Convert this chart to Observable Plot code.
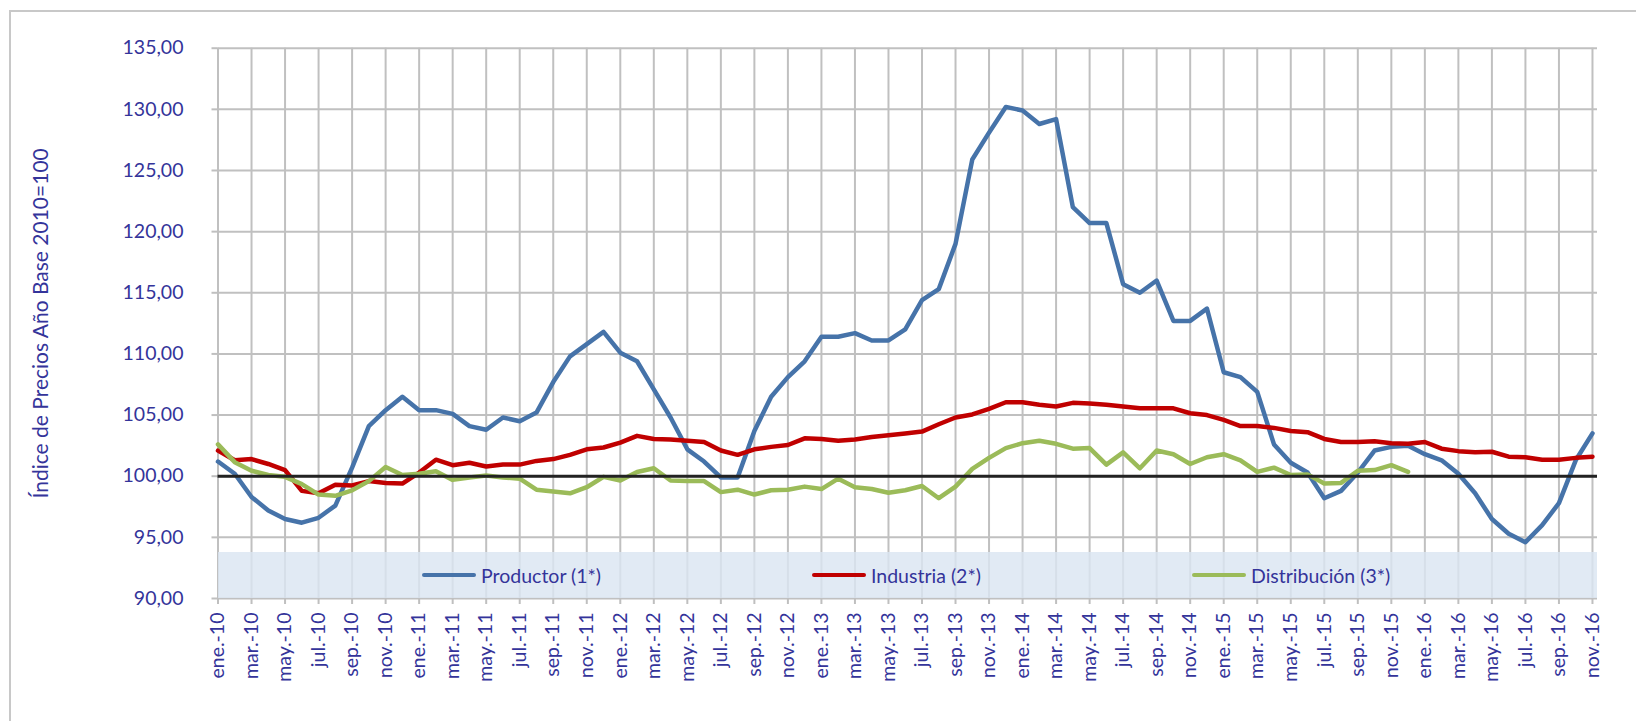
<!DOCTYPE html>
<html><head><meta charset="utf-8">
<script src="https://cdn.jsdelivr.net/npm/d3@7"></script>
<script src="https://cdn.jsdelivr.net/npm/@observablehq/plot@0.6"></script>
<style>
body{margin:0;background:#fff;width:1636px;height:721px;overflow:hidden;position:relative;font-family:Lato,sans-serif}
#frame{position:absolute;left:9px;top:10px;width:1700px;height:800px;border:2px solid #c8c8c8;box-sizing:border-box}
#chart{position:absolute;left:0;top:0}
#legend{position:absolute;left:217.5px;top:552px;width:1379.5px;height:46px;background:rgba(218,229,242,0.82)}
.item{position:absolute;top:0;height:46px;display:flex;align-items:center;color:#34349a;font-size:19.5px;white-space:nowrap}
.swatch{width:54px;height:4.5px;border-radius:2px;margin-right:5px}
</style></head>
<body><div id="frame"></div><div id="chart"></div><div id="legend"></div>
<script>
const tickLabels = ["ene.-10","mar.-10","may.-10","jul.-10","sep.-10","nov.-10",
"ene.-11","mar.-11","may.-11","jul.-11","sep.-11","nov.-11",
"ene.-12","mar.-12","may.-12","jul.-12","sep.-12","nov.-12",
"ene.-13","mar.-13","may.-13","jul.-13","sep.-13","nov.-13",
"ene.-14","mar.-14","may.-14","jul.-14","sep.-14","nov.-14",
"ene.-15","mar.-15","may.-15","jul.-15","sep.-15","nov.-15",
"ene.-16","mar.-16","may.-16","jul.-16","sep.-16","nov.-16"];

const productor = [101.2,100.2,98.3,97.2,96.5,96.2,96.6,97.6,100.7,104.1,105.4,106.5,
105.4,105.4,105.1,104.1,103.8,104.8,104.5,105.2,107.7,109.8,110.8,111.8,
110.1,109.4,107.1,104.8,102.2,101.2,99.9,99.9,103.7,106.5,108.1,109.4,
111.4,111.4,111.7,111.1,111.1,112.0,114.4,115.3,119.0,125.9,128.1,130.2,
129.9,128.8,129.2,122.0,120.7,120.7,115.7,115.0,116.0,112.7,112.7,113.7,
108.5,108.1,106.9,102.6,101.1,100.3,98.2,98.8,100.3,102.1,102.4,102.5,
101.8,101.3,100.2,98.6,96.5,95.3,94.6,96.0,97.8,101.3,103.5];

const industria = [102.1,101.3,101.4,101.0,100.5,98.8,98.6,99.3,99.25,99.6,99.45,99.4,
100.3,101.35,100.9,101.1,100.8,100.95,100.95,101.25,101.4,101.75,102.2,102.35,
102.75,103.3,103.05,103.0,102.9,102.8,102.1,101.75,102.2,102.4,102.55,103.1,
103.05,102.9,103.0,103.2,103.35,103.5,103.65,104.25,104.8,105.05,105.5,106.05,
106.05,105.85,105.7,106.0,105.95,105.85,105.7,105.55,105.55,105.55,105.15,105.0,
104.6,104.1,104.1,103.95,103.7,103.6,103.05,102.8,102.8,102.85,102.7,102.65,
102.8,102.25,102.05,101.95,102.0,101.6,101.55,101.35,101.35,101.5,101.6];

const distribucion = [102.6,101.15,100.45,100.1,99.95,99.35,98.5,98.4,98.85,99.6,100.75,100.1,
100.2,100.4,99.7,99.9,100.05,99.9,99.8,98.9,98.75,98.6,99.1,99.95,
99.65,100.35,100.65,99.65,99.6,99.6,98.7,98.9,98.5,98.85,98.9,99.15,
98.95,99.8,99.1,98.95,98.65,98.85,99.2,98.2,99.15,100.6,101.5,102.3,
102.7,102.9,102.65,102.25,102.3,100.95,101.95,100.65,102.1,101.8,101.0,101.55,
101.8,101.3,100.35,100.7,100.1,100.15,99.4,99.45,100.45,100.5,100.9,100.35];

const seriesNames = ["Productor (1*)","Industria (2*)","Distribución (3*)"];
const seriesColors = ["#4673a9","#c00000","#9bbb59"];
const seriesValues = [productor, industria, distribucion];
const yTicks = [90,95,100,105,110,115,120,125,130,135];
const baseValue = 100;
const yTitle = "Índice de Precios Año Base 2010=100";
const legendLeft = [422, 812, 1192];

const rows = seriesValues.flatMap((vals, k) => vals.map((v, i) => ({i, v, s: seriesNames[k]})));
const xTicks = tickLabels.map((_, k) => 2 * k);
const textColor = "#34349a";

const chart = Plot.plot({
  width: 1636, height: 721,
  marginLeft: 217.5, marginRight: 39, marginTop: 47.7, marginBottom: 123,
  style: {fontFamily: "Lato, sans-serif", fontSize: "19.5px", color: textColor, background: "transparent"},
  x: {domain: [0, 82.3]},
  y: {domain: [90, 135]},
  color: {domain: seriesNames, range: seriesColors},
  marks: [
    Plot.gridX(xTicks, {stroke: "#c0c0c0", strokeOpacity: 1, strokeWidth: 2}),
    Plot.gridY(yTicks, {stroke: "#c0c0c0", strokeOpacity: 1, strokeWidth: 2}),
    Plot.axisY({ticks: yTicks, tickFormat: d => d.toFixed(2).replace(".", ","), tickSize: 6, tickPadding: 28.5, stroke: "#bfbfbf", strokeWidth: 2, fill: textColor, label: null}),
    Plot.axisX({ticks: xTicks, tickFormat: d => tickLabels[d / 2], tickRotate: -90, tickSize: 6, tickPadding: 8, stroke: "#bfbfbf", strokeWidth: 2, fill: textColor, label: null}),
    Plot.text([yTitle], {frameAnchor: "left", rotate: -90, dx: -177, textAnchor: "middle", text: d => d, fill: textColor, fontSize: 21}),
    Plot.line(rows, {x: "i", y: "v", z: "s", stroke: "s", strokeWidth: 4.5, strokeLinejoin: "round"}),
    Plot.ruleY([baseValue], {stroke: "#222222", strokeWidth: 3})
  ]
});
document.getElementById("chart").appendChild(chart);

const legend = document.getElementById("legend");
seriesNames.forEach((name, k) => {
  const item = document.createElement("div");
  item.className = "item";
  item.style.left = (legendLeft[k] - 217.5) + "px";
  const sw = document.createElement("div");
  sw.className = "swatch";
  sw.style.background = seriesColors[k];
  item.appendChild(sw);
  item.appendChild(document.createTextNode(name));
  legend.appendChild(item);
});
</script>
</body></html>
